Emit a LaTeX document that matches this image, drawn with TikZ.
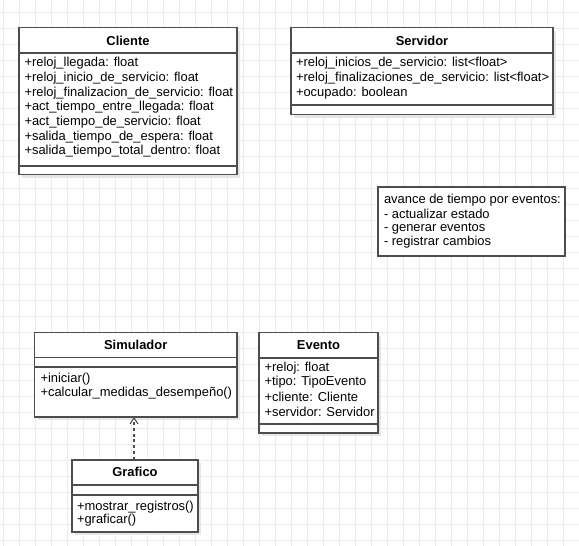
\documentclass[tikz,border=0pt]{standalone}
\usepackage{fontspec}
\setmainfont{Liberation Sans}
\usetikzlibrary{arrows.meta}
\definecolor{gridcol}{HTML}{EBEBEB}
\definecolor{shadowcol}{HTML}{E6E6E6}
\definecolor{linecol}{HTML}{4D4D4D}
% class frame: name, left, top, right, bottom, header rule y, divider rule y
\newcommand{\classframe}[7]{%
  \fill[shadowcol] (#2+3,#3+3) rectangle (#4+3,#5+3);
  \node[classbox, anchor=north west,
        minimum width={(#4-#2)*0.75pt}, minimum height={(#5-#3)*0.75pt}] (#1) at (#2,#3) {};
  \draw[classline] (#2,#6) -- (#4,#6);
  \draw[classline] (#2,#7) -- (#4,#7);
}
\begin{document}
\begin{tikzpicture}[x=0.75pt,y=-0.75pt,
  every node/.style={font=\fontsize{9.7}{11.6}\selectfont, inner sep=0pt, outer sep=0pt},
  gridline/.style={draw=gridcol, line width=0.75pt},
  classbox/.style={draw=linecol, fill=white, line width=0.9pt, rectangle},
  classline/.style={draw=linecol, line width=0.9pt},
  title/.style={font=\fontsize{9.7}{11.6}\selectfont\bfseries, anchor=center},
  member/.style={anchor=west},
  dep/.style={draw=linecol, line width=0.9pt, dash pattern=on 2.2pt off 2.2pt,
              -{Straight Barb[length=4.5pt, width=6pt, line width=0.8pt]}}]
\useasboundingbox (0,0) rectangle (579,546);
\fill[white] (0,0) rectangle (579,546);
% background grid
\foreach \gx in {3.5,19.5,...,579} \draw[gridline] (\gx,0) -- (\gx,546);
\foreach \gy in {12,28,...,546} \draw[gridline] (0,\gy) -- (579,\gy);

% Cliente
\classframe{cliente}{19}{27.5}{237}{174.5}{53}{166}
\node[title] (clienteT) at (128,40.7) {Cliente};
\node[member] (c1) at (24.5,63.3) {+reloj\_llegada: float};
\node[member] (c2) at (24.5,78.0) {+reloj\_inicio\_de\_servicio: float};
\node[member] (c3) at (24.5,92.7) {+reloj\_finalizacion\_de\_servicio: float};
\node[member] (c4) at (24.5,107.4) {+act\_tiempo\_entre\_llegada: float};
\node[member] (c5) at (24.5,122.1) {+act\_tiempo\_de\_servicio: float};
\node[member] (c6) at (24.5,136.8) {+salida\_tiempo\_de\_espera: float};
\node[member] (c7) at (24.5,151.5) {+salida\_tiempo\_total\_dentro: float};

% Servidor
\classframe{servidor}{291}{27.5}{553}{114.5}{53}{105}
\node[title] (servidorT) at (422,40.7) {Servidor};
\node[member] (s1) at (296,63.3) {+reloj\_inicios\_de\_servicio: list<float>};
\node[member] (s2) at (296,78.3) {+reloj\_finalizaciones\_de\_servicio: list<float>};
\node[member] (s3) at (296,93.0) {+ocupado: boolean};

% note
\node[classbox, anchor=north west, minimum width={187*0.75pt}, minimum height={69*0.75pt}] (nota) at (378,187) {};
\node[member] (n1) at (384,200) {avance de tiempo por eventos:};
\node[member] (n2) at (384,214.2) {- actualizar estado};
\node[member] (n3) at (384,228.4) {- generar eventos};
\node[member] (n4) at (384,242.6) {- registrar cambios};

% Simulador
\classframe{simulador}{34.5}{332.5}{237}{417}{357.5}{367}
\node[title] (simuladorT) at (135.7,345) {Simulador};
\node[member] (m1) at (40.5,379.3) {+iniciar()};
\node[member] (m2) at (40.5,393.6) {+calcular\_medidas\_desempeño()};

% Evento
\classframe{evento}{259}{332.5}{378}{433}{358}{424}
\node[title] (eventoT) at (318.5,345) {Evento};
\node[member] (e1) at (264.5,367.7) {+reloj: float};
\node[member] (e2) at (264.5,382.4) {+tipo: TipoEvento};
\node[member] (e3) at (264.5,397.1) {+cliente: Cliente};
\node[member] (e4) at (264.5,411.8) {+servidor: Servidor};

% Grafico
\classframe{grafico}{72}{460}{198}{532}{485}{495}
\node[title] (graficoT) at (135,471.7) {Grafico};
\node[member] (g1) at (77,506.7) {+mostrar\_registros()};
\node[member] (g2) at (77,520.6) {+graficar()};

% dependency Grafico -> Simulador
\draw[dep] ([xshift=-0.75pt]grafico.north) -- ([xshift=-0.75pt]grafico.north |- simulador.south);
\end{tikzpicture}
\end{document}
